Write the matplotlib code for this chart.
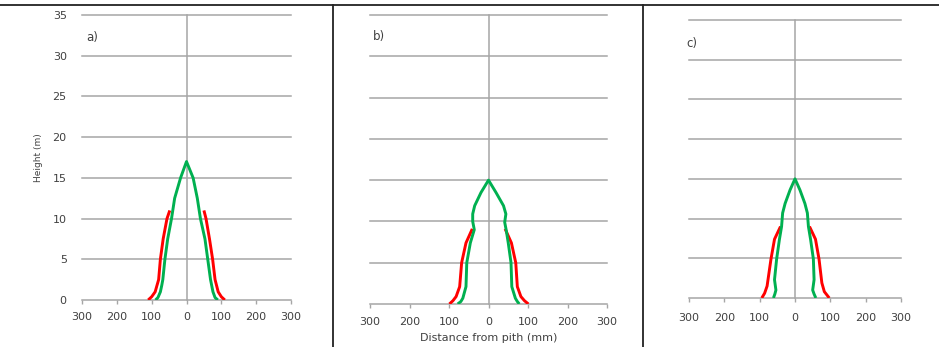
import matplotlib
matplotlib.use("Agg")
import matplotlib.pyplot as plt
from matplotlib.lines import Line2D
from matplotlib.ticker import FuncFormatter

# ---------------- data (distance from pith in mm, height in m) ----------------
# Panel a
a_green_x = [-89, -82, -75, -71, -68, -62, -54, -43, -34, -17, 0,
             19, 31, 40, 53, 61, 69, 76, 82, 90]
a_green_y = [0, 0.3, 1.0, 1.8, 2.5, 5.0, 7.5, 10.0, 12.5, 15.0, 17.0,
             15.0, 12.5, 10.0, 7.5, 5.0, 2.5, 1.0, 0.3, 0]
a_red_left_x = [-110, -100, -90, -80, -75, -67, -56, -48]
a_red_left_y = [0, 0.4, 1.0, 2.5, 5.0, 7.5, 10.0, 11.0]
a_red_right_x = [50, 56, 66, 75, 82, 91, 100, 110]
a_red_right_y = [11.0, 10.0, 7.5, 5.0, 2.5, 1.0, 0.4, 0]

# Panel b
b_green_x = [-78, -70, -65, -57, -55, -46, -36, -40, -40, -35, -19, 0,
             19, 38, 44, 41, 45, 50, 57, 59, 68, 73, 78]
b_green_y = [0, 0.3, 0.7, 2.1, 5.0, 7.4, 9.0, 10.0, 10.9, 11.9, 13.5, 15.0,
             13.5, 11.9, 10.9, 9.9, 8.9, 7.4, 5.0, 2.1, 0.7, 0.3, 0]
b_red_left_x = [-99, -90, -82, -73, -68, -57, -41]
b_red_left_y = [0, 0.4, 0.9, 2.1, 5.0, 7.4, 9.1]
b_red_right_x = [42, 58, 69, 73, 82, 91, 101]
b_red_right_y = [9.1, 7.4, 5.0, 2.1, 0.9, 0.4, 0]

# Panel c
c_green_x = [-61, -57, -54, -58, -52, -44, -38, -35, -28, -14, 0,
             14, 28, 35, 38, 44, 52, 54, 50, 54, 59]
c_green_y = [0, 0.5, 1.0, 2.3, 4.9, 7.4, 9.0, 10.7, 11.9, 13.6, 15.0,
             13.6, 11.9, 10.7, 9.0, 7.4, 4.9, 2.3, 1.0, 0.5, 0]
c_red_left_x = [-94, -86, -79, -68, -58, -41]
c_red_left_y = [0, 0.6, 1.5, 4.9, 7.4, 9.0]
c_red_right_x = [41, 58, 68, 76, 83, 97]
c_red_right_y = [9.0, 7.4, 4.9, 1.9, 0.8, 0]

panel_labels = ["a)", "b)", "c)"]
x_ticks = [-300, -200, -100, 0, 100, 200, 300]
y_ticks = [0, 5, 10, 15, 20, 25, 30, 35]

# ---------------- styling ----------------
W, H = 939, 347
fig = plt.figure(figsize=(W / 100, H / 100), dpi=100)
GRID = "#a6a6a6"
TXT = "#404040"
RED = "#ff0000"
GREEN = "#00b050"
LW = 2.1

def px_axes(left, right, top, bottom):
    return fig.add_axes([left / W, 1 - bottom / H, (right - left) / W, (bottom - top) / H])

axes_px = [(82, 291, 15, 300), (370, 607, 15, 304), (689, 901, 20, 298)]
label_pos = [(0.022, 0.92), (0.013, 0.924), (-0.014, 0.917)]
x_pads = [5.5, 6.5, 8.0]
panels = [
    (a_green_x, a_green_y, a_red_left_x, a_red_left_y, a_red_right_x, a_red_right_y),
    (b_green_x, b_green_y, b_red_left_x, b_red_left_y, b_red_right_x, b_red_right_y),
    (c_green_x, c_green_y, c_red_left_x, c_red_left_y, c_red_right_x, c_red_right_y),
]

for i, (geom, data) in enumerate(zip(axes_px, panels)):
    ax = px_axes(*geom)
    gx, gy, rlx, rly, rrx, rry = data
    ax.set_xlim(-300, 300)
    ax.set_ylim(0, 35)
    for v in y_ticks[1:]:
        ax.axhline(v, color=GRID, lw=1.1, clip_on=False, zorder=1)
    ax.axvline(0, color=GRID, lw=1.1, clip_on=False, zorder=1)
    ax.plot(rlx, rly, color=RED, lw=LW, solid_capstyle="butt", zorder=3)
    ax.plot(rrx, rry, color=RED, lw=LW, solid_capstyle="butt", zorder=3)
    ax.plot(gx, gy, color=GREEN, lw=LW, solid_capstyle="butt", solid_joinstyle="round", zorder=4)
    for s in ["top", "right", "left"]:
        ax.spines[s].set_visible(False)
    ax.spines["bottom"].set_color(GRID)
    ax.spines["bottom"].set_linewidth(1.1)
    ax.set_xticks(x_ticks)
    ax.xaxis.set_major_formatter(FuncFormatter(lambda v, p: f"{abs(int(v))}"))
    ax.tick_params(axis="x", direction="out", length=3, width=1, color=GRID,
                   labelsize=8, labelcolor=TXT, pad=x_pads[i])
    ax.set_yticks(y_ticks)
    if i == 0:
        ax.tick_params(axis="y", length=0, labelsize=8, labelcolor=TXT, pad=11)
        ax.set_ylabel("Height (m)", fontsize=6.5, color=TXT, labelpad=7)
    else:
        ax.tick_params(axis="y", left=False, labelleft=False)
    if i == 1:
        ax.set_xlabel("Distance from pith (mm)", fontsize=8, color=TXT, labelpad=4)
    ax.text(label_pos[i][0], label_pos[i][1], panel_labels[i], transform=ax.transAxes,
            fontsize=8.5, color=TXT, ha="left", va="center")
    ax.patch.set_alpha(0)

# frame lines of the surrounding table
fig.add_artist(Line2D([0, 1], [1 - 5 / H, 1 - 5 / H], color="#222222", lw=1.3))
for xp in (332.5, 643):
    fig.add_artist(Line2D([xp / W, xp / W], [0, 1 - 5 / H], color="#222222", lw=1.3))

fig.savefig("out.png", dpi=100)
